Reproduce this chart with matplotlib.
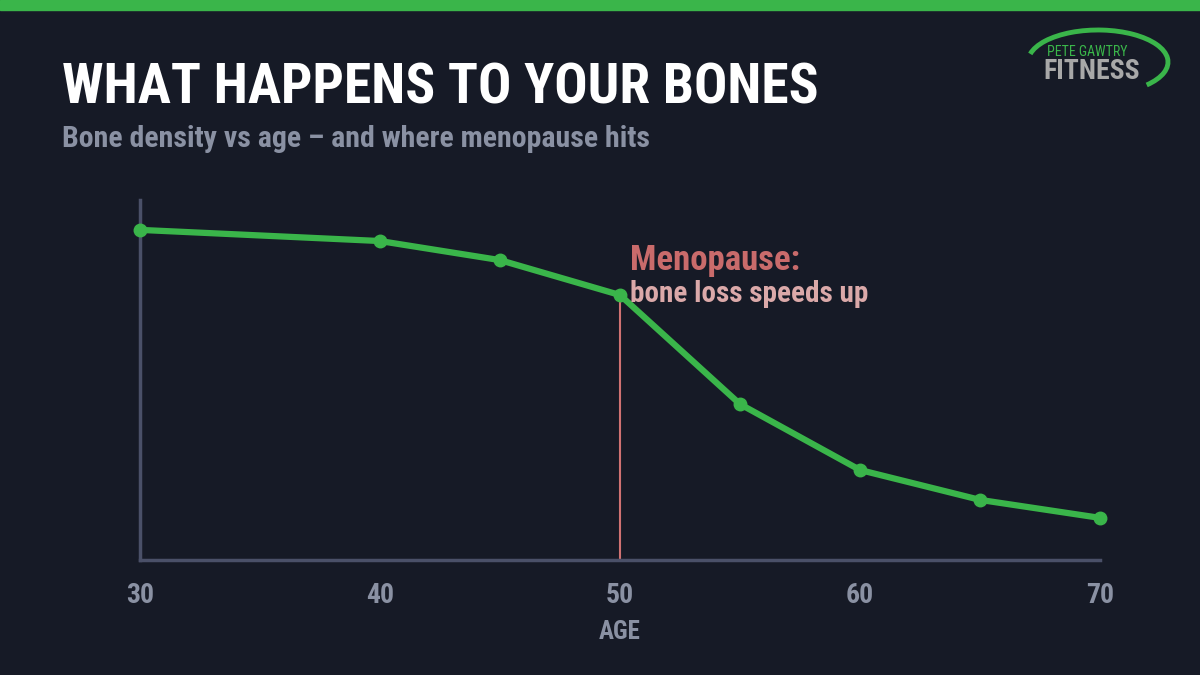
import matplotlib
matplotlib.use("Agg")
import matplotlib.pyplot as plt
from matplotlib.patches import Rectangle, Arc
from matplotlib import font_manager as fm

ages = [30, 40, 45, 50, 55, 60, 65, 70]
density = [91.7, 88.6, 83.3, 73.6, 43.3, 25.0, 16.7, 11.7]
xticks = [30, 40, 50, 60, 70]
menopause_age = 50

BG = "#161a26"
GREEN = "#3ab54a"
AXIS = "#4a5068"
GREY = "#8a91a3"

names = {f.name for f in fm.fontManager.ttflist}
cands = ["Roboto Condensed", "Liberation Sans Narrow", "Roboto", "DejaVu Sans"]
FONT = [c for c in cands if c in names] + ["DejaVu Sans"]
plt.rcParams['font.family'] = FONT

fig = plt.figure(figsize=(12, 6.75), dpi=100, facecolor=BG)
fig.patches.append(Rectangle((0, 1 - 10/675), 1, 10/675, transform=fig.transFigure, color=GREEN, zorder=0))

ax = fig.add_axes([140/1200, 1 - 560/675, 960/1200, 360/675])
ax.set_facecolor(BG)
ax.plot(ages, density, color=GREEN, lw=4.5, marker="o", ms=9, solid_capstyle="round", zorder=3, clip_on=False)
ax.axvline(menopause_age, ymin=0, ymax=(density[3]) / 100, color="#d07272", lw=1.5, zorder=2)
ax.set_xlim(30, 70)
ax.set_ylim(0, 100)
for s in ["top", "right"]:
    ax.spines[s].set_visible(False)
for s in ["left", "bottom"]:
    ax.spines[s].set_color(AXIS)
    ax.spines[s].set_linewidth(2.5)
ax.set_yticks([])
ax.set_xticks(xticks)
ax.set_xticklabels([str(t) for t in xticks], fontsize=20, fontweight="bold", color=GREY)
ax.tick_params(axis="x", length=0, pad=16)
ax.set_xlabel("AGE", fontsize=18, fontweight="bold", color=GREY, labelpad=8)

ax.text(50.4, 80.5, "Menopause:", fontsize=25, fontweight="bold", color="#c96b6b", va="baseline")
ax.text(50.4, 71.7, "bone loss speeds up", fontsize=21, fontweight="bold", color="#dba9a9", va="baseline")

fig.text(62/1200, 1 - 103/675, "WHAT HAPPENS TO YOUR BONES", fontsize=40, fontweight="bold", color="white", va="baseline")
fig.text(62/1200, 1 - 147/675, "Bone density vs age \u2013 and where menopause hits", fontsize=21.5, fontweight="bold", color=GREY, va="baseline")

# logo
fig.patches.append(Arc((1098/1200, 1 - 62/675), 140/1200, 64/675, theta1=-40, theta2=168, transform=fig.transFigure, color=GREEN, lw=3.5))
fig.text(1087/1200, 1 - 56/675, "PETE GAWTRY", fontsize=10, color=GREEN, ha="center", va="baseline")
fig.text(1043/1200, 1 - 79/675, "FITNESS", fontsize=20, fontweight="bold", color="#a8a8a8", ha="left", va="baseline")

fig.savefig("out.png", dpi=100, facecolor=BG)
